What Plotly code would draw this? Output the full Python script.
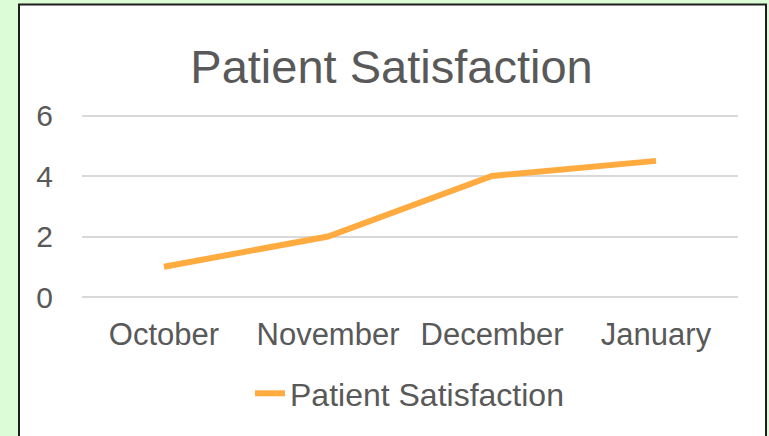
import plotly.graph_objects as go

categories = ["October", "November", "December", "January"]
values = [1, 2, 4, 4.5]
series_name = "Patient Satisfaction"
chart_title = "Patient Satisfaction"
y_ticks = [0, 2, 4, 6]

W, H = 769, 436
L, R, T, B = 82, 31, 114, 139
pw, ph = W - L - R, H - T - B

def px_x(p):
    return (p - L) / pw

def px_y(p):
    return (H - B - p) / ph

FONT = "Liberation Sans, Arial, sans-serif"
TXT = "#595959"

fig = go.Figure()
fig.add_trace(go.Scatter(
    x=categories, y=values, mode="lines", name=series_name,
    line=dict(color="#ffab40", width=6),
))

fig.update_layout(
    width=W, height=H,
    margin=dict(l=L, r=R, t=T, b=B, pad=0),
    paper_bgcolor="#dcfcd7",
    plot_bgcolor="white",
    font=dict(family=FONT, color=TXT, size=31),
    title=dict(text=chart_title, font=dict(size=47, color=TXT, family=FONT),
               x=391.5 / W, xanchor="center", xref="container",
               y=1 - 67 / H, yanchor="middle", yref="container"),
    showlegend=True,
    legend=dict(orientation="h", x=px_x(250), xanchor="left",
                y=px_y(393.5), yanchor="middle",
                font=dict(size=32, color=TXT, family=FONT),
                bgcolor="rgba(0,0,0,0)"),
    shapes=[dict(type="rect", xref="paper", yref="paper",
                 x0=px_x(19), x1=px_x(766), y0=px_y(445), y1=px_y(4.5),
                 fillcolor="white", line=dict(color="#1e1e1e", width=2),
                 layer="below")],
)
fig.update_xaxes(type="category", range=[-0.5, 3.5], showgrid=False,
                 showline=False, zeroline=False, ticks="",
                 ticklabelstandoff=16, tickfont=dict(size=31, color=TXT))
fig.update_yaxes(range=[0, 6.05], tickvals=y_ticks, showgrid=True,
                 gridcolor="#d9d9d9", gridwidth=2, zeroline=True,
                 zerolinecolor="#d9d9d9", zerolinewidth=2, showline=False,
                 ticks="", ticklabelstandoff=28, tickfont=dict(size=30, color=TXT))

fig.write_html("out.html",
               config={"displayModeBar": False},
               post_script="document.body.style.margin='0';document.body.style.overflow='hidden';")
